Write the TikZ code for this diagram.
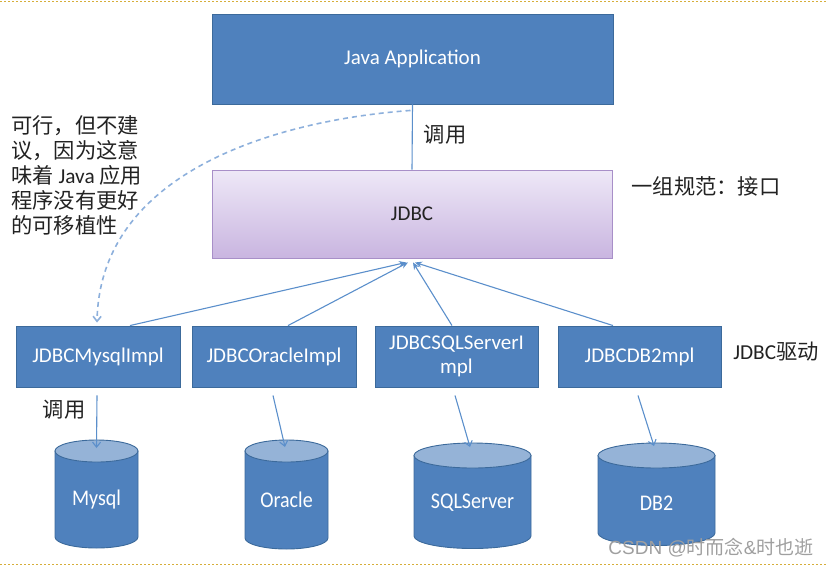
\documentclass[tikz,border=0pt]{standalone}
\usepackage{fontspec}
\setmainfont{Carlito}
\newfontfamily\cjk{Noto Sans CJK SC}
\usetikzlibrary{arrows.meta}
\definecolor{boxblue}{HTML}{4F81BD}
\definecolor{boxedge}{HTML}{3C6A9B}
\definecolor{cyltop}{HTML}{95B3D7}
\definecolor{connblue}{HTML}{5B8FCB}
\definecolor{dashblue}{HTML}{8DB0DC}
\definecolor{lavtop}{HTML}{EEE8F7}
\definecolor{lavbot}{HTML}{C9B5E0}
\definecolor{lavedge}{HTML}{A88FC8}
\definecolor{gold}{HTML}{D6AE3A}
\definecolor{txt}{HTML}{222222}
\newcommand{\dbcyl}[8]{% name, x1, x2, yEllipseCenter, ybottomCenter, ry, label, labely
  \pgfmathsetmacro{\cx}{(#2+#3)/2}
  \pgfmathsetmacro{\rx}{(#3-#2)/2}
  \draw[cylline, fill=boxblue] (#2,#4) -- (#2,#5) arc[start angle=180, end angle=0, x radius=\rx, y radius=#6] -- (#3,#4) -- cycle;
  \draw[cylline, fill=cyltop] (\cx,#4) ellipse [x radius=\rx, y radius=#6];
  \node[cyllabel] (#1) at (\cx,#8) {#7};
}
\begin{document}
\begin{tikzpicture}[x=1pt,y=-1pt,
  bluebox/.style={draw=boxedge, fill=boxblue, text=white, line width=0.9pt,
    font=\fontsize{21}{24}\selectfont, inner sep=0pt, align=center},
  cylline/.style={draw=boxedge, line width=0.9pt},
  cyllabel/.style={text=white, font=\fontsize{20}{24}\selectfont, inner sep=0pt, yscale=1.12},
  conn/.style={draw=connblue, line width=1.1pt},
  arr/.style={conn, -{Stealth[length=7pt,width=6pt]}},
  barb/.style={conn, -{Straight Barb[length=5pt,width=8pt]}},
  note/.style={text=txt, font=\cjk\fontsize{21.3}{25}\selectfont, inner sep=0pt}
]
\useasboundingbox (0,0) rectangle (827,566);
% golden dotted frame lines
\draw[gold, line width=1pt, dash pattern=on 2pt off 2pt] (0,1) -- (827,1);
\draw[gold, line width=1pt, dash pattern=on 2pt off 2pt] (0,564) -- (827,564);

% main boxes
\node[bluebox, minimum width=401pt, minimum height=90pt] (java) at (412.5,59) {Java Application};
\node[draw=lavedge, line width=0.9pt, top color=lavtop, bottom color=lavbot,
  minimum width=400pt, minimum height=88pt, text=txt, inner sep=0pt,
  font=\fontsize{21}{24}\selectfont] (jdbc) at (412,214) {JDBC};

% driver boxes
\node[bluebox, minimum width=164pt, minimum height=61pt] (mysql) at (98,356.5) {JDBCMysqlImpl};
\node[bluebox, minimum width=164pt, minimum height=61pt] (oracle) at (274,356.5) {JDBCOracleImpl};
\node[bluebox, minimum width=163pt, minimum height=61pt] (sqlsrv) at (456.5,356.5) {JDBCSQLServerI\\mpl};
\node[bluebox, minimum width=163pt, minimum height=61pt] (db2) at (639.5,356.5) {JDBCDB2mpl};

% databases
\dbcyl{mysqldb}{55}{138}{451}{537}{11}{Mysql}{500}
\dbcyl{oracledb}{245}{328}{451}{538}{11}{Oracle}{500}
\dbcyl{sqldb}{414}{531}{455.5}{536}{12.5}{SQLServer}{503}
\dbcyl{db2db}{598}{715}{455.5}{533}{12.5}{DB2}{503}
\coordinate (mysqltop) at (96.5,448);
\coordinate (oracletop) at (285,447);
\coordinate (sqltop) at (470,447);
\coordinate (db2top) at (654,446);

% labels
\node[note, anchor=north west, align=left] (remark) at (11,115)
  {可行，但不建\\议，因为这意\\味着 {\fontspec{Carlito}Java} 应用\\程序没有更好\\的可移植性};
\node[note] (call1) at (445,135) {调用};
\node[note] (spec) at (706,186) {一组规范：接口};
\node[note] (drv) at (776,352) {{\fontspec{Carlito}JDBC}驱动};
\node[note] (call2) at (64,410) {调用};
\node[text=gray!75, font=\cjk\fontsize{19}{21}\selectfont, inner sep=0pt] (wm) at (711,548) {{\fontspec{Liberation Sans}CSDN @}时而念{\fontspec{Liberation Sans}\&}时也逝};

% connectors
\draw[conn] (java.south) -- (jdbc.north);
\draw[arr] ([xshift=32pt]mysql.north) -- ([xshift=-6pt,yshift=-4pt]jdbc.south);
\draw[arr] ([xshift=14pt]oracle.north) -- ([xshift=-4pt,yshift=-4pt]jdbc.south);
\draw[arr] ([xshift=-4.5pt]sqlsrv.north) -- ([xshift=1pt,yshift=-4pt]jdbc.south);
\draw[arr] ([xshift=-26.5pt]db2.north) -- ([xshift=3pt,yshift=-4pt]jdbc.south);

\draw[barb] ([xshift=-1pt,yshift=-8pt]mysql.south) -- (mysqltop);
\draw[barb] ([xshift=-1pt,yshift=-8pt]oracle.south) -- (oracletop);
\draw[barb] ([xshift=-1.5pt,yshift=-8pt]sqlsrv.south) -- (sqltop);
\draw[barb] ([xshift=-1.5pt,yshift=-8pt]db2.south) -- (db2top);

\draw[draw=dashblue, line width=1.6pt, dash pattern=on 5pt off 4pt, -{Straight Barb[length=5pt,width=8pt]}]
  ([xshift=-2pt,yshift=-6pt]java.south) .. controls (280,120) and (100,170) .. ([xshift=-1pt,yshift=3pt]mysql.north);
\end{tikzpicture}
\end{document}
